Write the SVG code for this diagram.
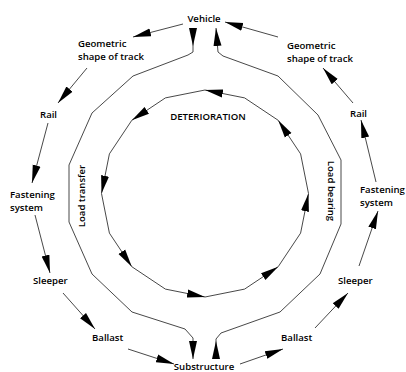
<svg xmlns="http://www.w3.org/2000/svg" width="406" height="372" viewBox="0 0 406 372">
<style>
.t{font-family:"Open Sans","Liberation Sans",sans-serif;font-weight:600;font-size:9.6px;fill:#000}
.ln{fill:none;stroke:#333;stroke-width:0.9}
</style>
<defs>
<marker id="ae" markerUnits="userSpaceOnUse" viewBox="0 -5 20 10" refX="18" refY="0" markerWidth="20" markerHeight="10" orient="auto"><path d="M0,-4 L18,0 L0,4 z" fill="#000"/></marker>
<marker id="as" markerUnits="userSpaceOnUse" viewBox="0 -5 20 10" refX="0" refY="0" markerWidth="20" markerHeight="10" orient="auto"><path d="M0,-4 L18,0 L0,4 z" fill="#000"/></marker>
</defs>
<rect width="406" height="372" fill="#fff"/>
<g id="connectors">
<path class="ln" marker-end="url(#ae)" d="M183,24 L133,37"/>
<path class="ln" marker-end="url(#ae)" d="M87,68 L58,103"/>
<path class="ln" marker-end="url(#ae)" d="M48,123 L32,183"/>
<path class="ln" marker-end="url(#ae)" d="M35,215 L50,273"/>
<path class="ln" marker-end="url(#ae)" d="M63,293 L95,329"/>
<path class="ln" marker-end="url(#ae)" d="M128,349 L174,364"/>
<path class="ln" marker-end="url(#ae)" d="M240,364 L283,349"/>
<path class="ln" marker-end="url(#ae)" d="M315,328 L348,293"/>
<path class="ln" marker-end="url(#ae)" d="M359,266 L378,211"/>
<path class="ln" marker-end="url(#ae)" d="M376,182 L361,120"/>
<path class="ln" marker-end="url(#ae)" d="M353,103 L323,68"/>
<path class="ln" marker-end="url(#ae)" d="M278,37 L225,22"/>
<path class="ln" marker-start="url(#as)" marker-end="url(#ae)" d="M193,28 L193,52 L188,55 L133,76 L92,113 L69,165 L69,222 L92,274 L132,312 L185,329 L193,338 L193,359"/>
<path class="ln" marker-start="url(#as)" marker-end="url(#ae)" d="M216,359 L216,339 L221,333 L280,312 L320,274 L341,224 L341,160 L318,115 L278,76 L223,56 L218,52 L216,28"/>
<path class="ln" marker-end="url(#ae)" d="M278.2,120.3 L244.6,97.9 L205,90"/>
<path class="ln" marker-end="url(#ae)" d="M205,90 L165.4,97.9 L131.8,120.3"/>
<path class="ln" marker-end="url(#ae)" d="M131.8,120.3 L109.4,153.9 L101.5,193.5"/>
<path class="ln" marker-end="url(#ae)" d="M101.5,193.5 L109.4,233.1 L131.8,266.7"/>
<path class="ln" marker-end="url(#ae)" d="M131.8,266.7 L165.4,289.1 L205,297"/>
<path class="ln" marker-end="url(#ae)" d="M205,297 L244.6,289.1 L278.2,266.7"/>
<path class="ln" marker-end="url(#ae)" d="M278.2,266.7 L300.6,233.1 L308.5,193.5"/>
<path class="ln" marker-end="url(#ae)" d="M308.5,193.5 L300.6,153.9 L278.2,120.3"/>
</g>
<g id="vehicle"><text class="t" x="204" y="22" text-anchor="middle">Vehicle</text></g>
<g id="geom-left"><text class="t" x="78" y="47">Geometric</text><text class="t" x="78" y="60">shape of track</text></g>
<g id="geom-right"><text class="t" x="287" y="49">Geometric</text><text class="t" x="287" y="62">shape of track</text></g>
<g id="rail-left"><text class="t" x="40" y="118">Rail</text></g>
<g id="rail-right"><text class="t" x="350" y="117">Rail</text></g>
<g id="fast-left"><text class="t" x="10" y="198">Fastening</text><text class="t" x="10" y="211">system</text></g>
<g id="fast-right"><text class="t" x="360" y="193">Fastening</text><text class="t" x="360" y="206">system</text></g>
<g id="sleeper-left"><text class="t" x="33" y="284">Sleeper</text></g>
<g id="sleeper-right"><text class="t" x="338" y="284">Sleeper</text></g>
<g id="ballast-left"><text class="t" x="92" y="341">Ballast</text></g>
<g id="ballast-right"><text class="t" x="281" y="341">Ballast</text></g>
<g id="substructure"><text class="t" x="204" y="370" text-anchor="middle">Substructure</text></g>
<g id="deterioration"><text class="t" x="208" y="120" text-anchor="middle">DETERIORATION</text></g>
<g id="load-transfer"><text class="t" transform="translate(85,196) rotate(-90)" text-anchor="middle">Load transfer</text></g>
<g id="load-bearing"><text class="t" transform="translate(328,191) rotate(90)" text-anchor="middle">Load bearing</text></g>
</svg>
